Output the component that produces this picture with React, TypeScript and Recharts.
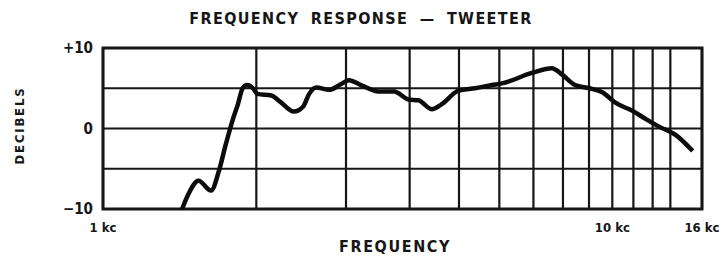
import {
  CartesianGrid,
  Line,
  LineChart,
  ReferenceArea,
  XAxis,
  YAxis,
} from 'recharts';

// frequency in Hz, level in dB
const frequencies = [
  1430, 1470, 1540, 1630, 1690, 1740, 1800, 1840, 1880, 1920, 1970, 2010,
  2140, 2230, 2370, 2470, 2540, 2620, 2780, 2930, 3040, 3210, 3470, 3730,
  3980, 4160, 4420, 4620, 4990, 5370, 5800, 6070, 6950, 7610, 7970, 8450,
  9010, 9560, 10140, 10950, 11620, 12380, 13310, 14380,
];
const levels = [
  -10, -8.2, -6.5, -7.7, -5.2, -2.1, 1.2, 3.0, 5.0, 5.4, 5.0, 4.3,
  4.1, 3.3, 2.1, 2.7, 4.3, 5.1, 4.8, 5.5, 6.0, 5.4, 4.6, 4.6,
  3.6, 3.5, 2.4, 3.0, 4.7, 5.0, 5.4, 5.6, 6.9, 7.5, 6.7, 5.4,
  5.0, 4.5, 3.2, 2.2, 1.2, 0.2, -0.8, -2.8,
];

// vertical rules of the printed log grid; the right edge is marked "16 kc"
const freqTicks = [1000, 2000, 3000, 4000, 5000, 6000, 7000, 8000, 9000, 10000, 11000, 12000, 13000, 15000];
const freqLabels: Record<number, string> = { 1000: '1 kc', 10000: '10 kc', 15000: '16 kc' };
const dbTicks = [-10, -5, 0, 5, 10];
const dbLabels: Record<number, string> = { 10: '+10', 0: '0', [-10]: '\u221210' };

const ink = '#161616';
const font = '"DejaVu Sans Condensed", "DejaVu Sans", sans-serif';

export default function App() {
  const data = frequencies.map((f, i) => ({ f, db: levels[i] }));

  return (
    <div
      style={{
        position: 'absolute',
        left: 0,
        top: 0,
        width: 727,
        height: 257,
        background: '#ffffff',
        fontFamily: font,
        color: ink,
      }}
    >
      <div
        style={{
          position: 'absolute',
          left: 180,
          width: 362,
          top: 9,
          textAlign: 'center',
          fontWeight: 'bold',
          fontSize: 16,
          letterSpacing: 1.4,
          wordSpacing: 5,
          whiteSpace: 'nowrap',
        }}
      >
        FREQUENCY RESPONSE — TWEETER
      </div>

      <LineChart
        width={727}
        height={257}
        data={data}
        margin={{ top: 48, right: 25, bottom: 0, left: 0 }}
      >
        <CartesianGrid stroke={ink} strokeWidth={2.2} />
        <XAxis
          dataKey="f"
          type="number"
          scale="log"
          domain={[1000, 15000]}
          ticks={freqTicks}
          interval={0}
          height={48}
          axisLine={false}
          tickLine={false}
          tickSize={0}
          tickMargin={14}
          tick={{ fill: ink, fontSize: 13, fontWeight: 'bold', fontFamily: font }}
          tickFormatter={(v: number) => freqLabels[v] ?? ''}
        />
        <YAxis
          type="number"
          domain={[-10, 10]}
          ticks={dbTicks}
          interval={0}
          width={103}
          axisLine={false}
          tickLine={false}
          tickSize={0}
          tickMargin={10}
          tick={{ fill: ink, fontSize: 15, fontWeight: 'bold', fontFamily: font }}
          tickFormatter={(v: number) => dbLabels[v] ?? ''}
        />
        <ReferenceArea
          x1={1000}
          x2={15000}
          y1={-10}
          y2={10}
          fill="none"
          stroke={ink}
          strokeWidth={3}
          ifOverflow="visible"
        />
        <Line
          type="monotone"
          dataKey="db"
          stroke="#0c0c0c"
          strokeWidth={4.5}
          dot={false}
          isAnimationActive={false}
        />
      </LineChart>

      <div
        style={{
          position: 'absolute',
          left: 330,
          width: 130,
          top: 237,
          textAlign: 'center',
          fontWeight: 'bold',
          fontSize: 16,
          letterSpacing: 1.6,
        }}
      >
        FREQUENCY
      </div>
      <div
        style={{
          position: 'absolute',
          left: 19,
          top: 127,
          width: 100,
          marginLeft: -50,
          marginTop: -9,
          textAlign: 'center',
          fontWeight: 'bold',
          fontSize: 13,
          letterSpacing: 1.8,
          transform: 'rotate(-90deg)',
        }}
      >
        DECIBELS
      </div>
    </div>
  );
}
